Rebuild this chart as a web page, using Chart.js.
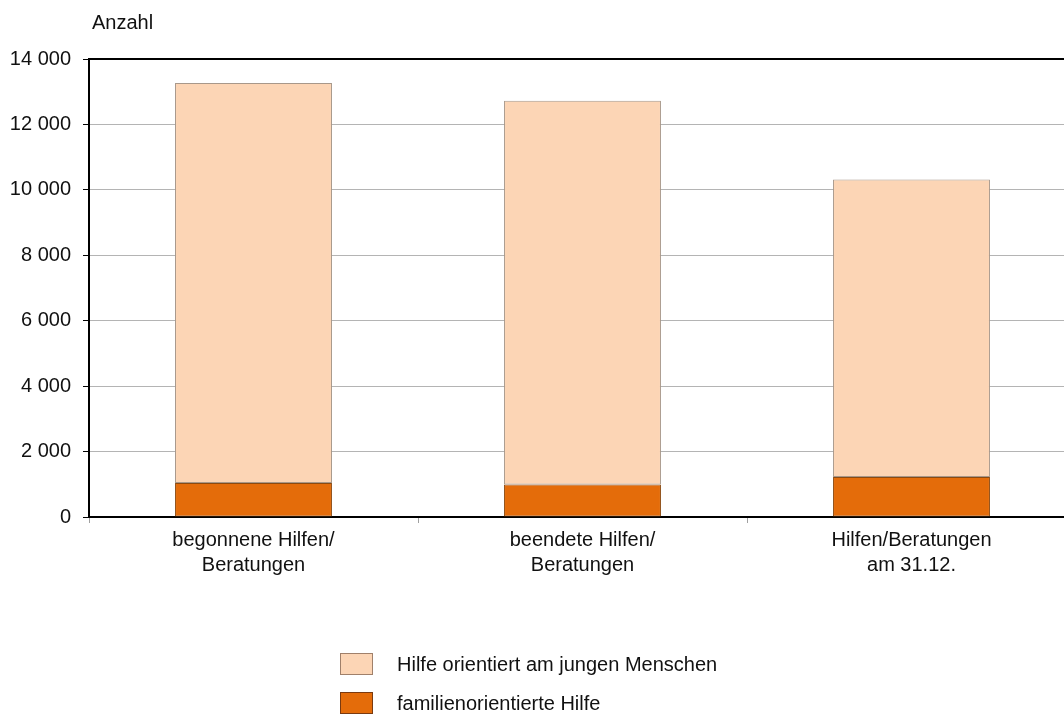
<!DOCTYPE html>
<html>
<head>
<meta charset="utf-8">
<script src="https://cdn.jsdelivr.net/npm/chart.js@4/dist/chart.umd.min.js"></script>
<style>
  html, body { margin: 0; padding: 0; background: #fff; overflow: hidden; }
  #wrap { position: relative; width: 1064px; height: 715px; overflow: hidden; font-family: "Liberation Sans", Arial, sans-serif; color: #111; }
  #box { position: absolute; left: 0; top: 0; width: 1080px; height: 715px; }
  #unit { position: absolute; left: 92px; top: 12px; font-size: 20px; line-height: 20px; }
  #legend { position: absolute; left: 340px; top: 653px; font-size: 20px; }
  .item { display: flex; align-items: center; height: 22px; line-height: 22px; margin-bottom: 17px; }
  .sw { width: 33px; height: 22px; box-sizing: border-box; margin-right: 24px; }
</style>
</head>
<body>
<div id="wrap">
  <div id="box"><canvas id="chart" width="1080" height="715"></canvas></div>
  <div id="unit">Anzahl</div>
  <div id="legend"></div>
</div>
<script>
// categories and values
const categories = [
    ['begonnene Hilfen/', 'Beratungen'],
    ['beendete Hilfen/', 'Beratungen'],
    ['Hilfen/Beratungen', 'am 31.12.']
];
const familienorientiert = [1040, 990, 1225];
const jungerMensch = [12230, 11730, 9095];
const yTicks = [0, 2000, 4000, 6000, 8000, 10000, 12000, 14000];

const seriesNames = ['familienorientierte Hilfe', 'Hilfe orientiert am jungen Menschen'];
const fillColors = ['#e46c0a', '#fcd5b5'];
const edgeColors = ['#8c4a10', '#a8988a'];
const swatchEdges = ['#7a3a10', '#a0806a'];

// frame on top and right of the plot area
const framePlugin = {
    id: 'frame',
    afterDraw(chart) {
        const { ctx, chartArea: a } = chart;
        ctx.save();
        ctx.strokeStyle = '#000';
        ctx.lineWidth = 2;
        ctx.beginPath();
        ctx.moveTo(a.left, a.top);
        ctx.lineTo(a.right, a.top);
        ctx.lineTo(a.right, a.bottom);
        ctx.stroke();
        ctx.restore();
    }
};

const ctx = document.getElementById('chart').getContext('2d');
const chart = new Chart(ctx, {
    type: 'bar',
    data: {
        labels: categories,
        datasets: [
            {
                label: seriesNames[0],
                data: familienorientiert,
                backgroundColor: fillColors[0],
                borderColor: edgeColors[0],
                borderWidth: 1,
                borderSkipped: false
            },
            {
                label: seriesNames[1],
                data: jungerMensch,
                backgroundColor: fillColors[1],
                borderColor: edgeColors[1],
                borderWidth: 1,
                borderSkipped: false
            }
        ]
    },
    options: {
        responsive: false,
        animation: false,
        devicePixelRatio: 1,
        layout: { padding: { top: 59, right: 4, left: 0, bottom: 0 } },
        datasets: {
            bar: { barPercentage: 0.477, categoryPercentage: 1 }
        },
        plugins: {
            legend: { display: false },
            tooltip: { enabled: false }
        },
        scales: {
            x: {
                stacked: true,
                afterFit: (scale) => { scale.height = 198; },
                grid: {
                    offset: true,
                    drawOnChartArea: false,
                    tickLength: 6,
                    tickColor: '#a0a0a0'
                },
                border: { display: true, color: '#000', width: 2 },
                ticks: {
                    color: '#111',
                    padding: 5,
                    font: { family: 'Liberation Sans', size: 20, lineHeight: 1.25 },
                    maxRotation: 0
                }
            },
            y: {
                stacked: true,
                min: 0,
                max: 14000,
                afterFit: (scale) => { scale.width = 89; },
                afterBuildTicks: (scale) => { scale.ticks = yTicks.map(v => ({ value: v })); },
                grid: {
                    color: (c) => c.tick && c.tick.value === 14000 ? 'rgba(0,0,0,0)' : '#b4b4b4',
                    lineWidth: 1,
                    tickLength: 6,
                    tickColor: '#000'
                },
                border: { display: true, color: '#000', width: 2 },
                ticks: {
                    color: '#111',
                    padding: 12,
                    font: { family: 'Liberation Sans', size: 20 },
                    callback: (v) => String(v).replace(/\B(?=(\d{3})+(?!\d))/g, ' ')
                }
            }
        }
    },
    plugins: [framePlugin]
});

// legend, top entry is the upper stack
const legend = document.getElementById('legend');
[1, 0].forEach(i => {
    const row = document.createElement('div');
    row.className = 'item';
    const sw = document.createElement('div');
    sw.className = 'sw';
    sw.style.background = fillColors[i];
    sw.style.border = '1px solid ' + swatchEdges[i];
    const txt = document.createElement('span');
    txt.textContent = seriesNames[i];
    row.appendChild(sw);
    row.appendChild(txt);
    legend.appendChild(row);
});
</script>
</body>
</html>
